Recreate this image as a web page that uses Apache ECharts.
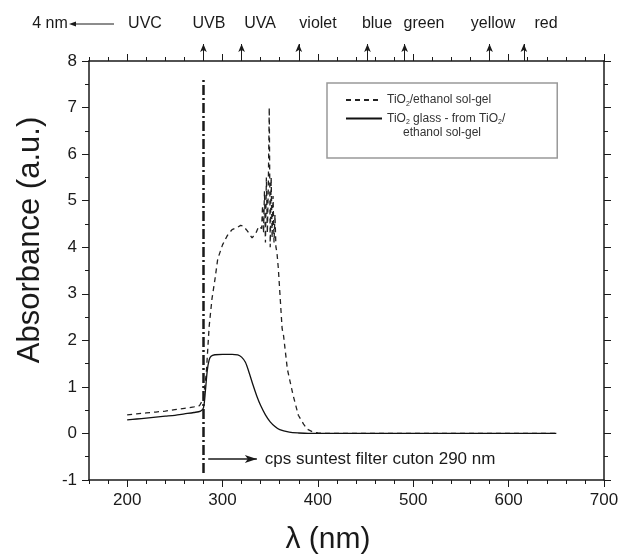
<!DOCTYPE html>
<html>
<head>
<meta charset="utf-8">
<script src="https://cdn.jsdelivr.net/npm/echarts@6/dist/echarts.min.js"></script>
<style>
  html, body { margin: 0; padding: 0; background: #fff; }
  #chart { width: 622px; height: 560px; }
</style>
</head>
<body>
<div id="chart"></div>
<script>
// wavelength (nm) and absorbance, TiO2/ethanol sol-gel (dashed)
var solNm = [200, 210, 220, 230, 240, 250, 260, 270, 276, 280, 283, 286, 289, 292, 295, 300, 305, 310, 315, 319, 322, 326, 331, 335, 338, 341,
  342, 343, 344, 345, 346, 347, 348, 349, 350, 351, 352, 353, 354, 355, 356, 357, 358.5, 360.5, 362.5, 364, 368, 374, 379.5, 385, 389, 395, 400, 410, 450, 500, 550, 600, 650];
var solAbs = [0.40, 0.42, 0.44, 0.46, 0.48, 0.51, 0.54, 0.57, 0.60, 0.75, 1.3, 2.3, 2.9, 3.3, 3.75, 4.05, 4.25, 4.38, 4.42, 4.47, 4.45, 4.35, 4.2, 4.3, 4.45, 4.4,
  4.9, 4.3, 5.2, 4.1, 5.5, 4.3, 5.3, 7.0, 4.0, 5.5, 4.2, 5.1, 4.1, 4.7, 4.0, 3.9, 3.55, 2.9, 2.25, 2.1, 1.38, 0.82, 0.39, 0.2, 0.09, 0.03, 0.01, 0, 0, 0, 0, 0, 0];

// TiO2 glass (solid)
var glassNm = [200, 210, 220, 230, 240, 250, 260, 270, 277, 280, 282, 284, 286, 288, 292, 300, 310, 316, 320, 324, 328, 332, 336, 340, 345, 350, 355, 360, 370, 380, 390, 450, 500, 550, 600, 650];
var glassAbs = [0.29, 0.31, 0.33, 0.35, 0.37, 0.39, 0.42, 0.45, 0.48, 0.55, 0.9, 1.35, 1.58, 1.66, 1.69, 1.70, 1.70, 1.69, 1.64, 1.53, 1.3, 1.04, 0.8, 0.6, 0.4, 0.25, 0.15, 0.08, 0.03, 0.01, 0, 0, 0, 0, 0, 0];

var xTicksMajor = [200, 300, 400, 500, 600, 700];
var cutonNm = 280;
var cutonArrow = [285, 336, -0.55];
var bandArrowsNm = [280, 320, 380, 452, 491, 580, 616];
var bandLabels = ['UVC', 'UVB', 'UVA', 'violet', 'blue', 'green', 'yellow', 'red'];
var bandLabelX = [145, 209, 260, 318, 377, 424, 493, 546];

function pairs(xs, ys) {
  return xs.map(function (x, i) { return [x, ys[i]]; });
}

var chart = echarts.init(document.getElementById('chart'));
var ink = '#1a1a1a';
var font = 'Liberation Sans, Arial, sans-serif';

var baseX = {
  type: 'value', gridIndex: 0, min: 160, max: 700, interval: 20,
  axisLine: { onZero: false, lineStyle: { color: ink, width: 1.5 } },
  axisTick: { length: 4, lineStyle: { color: ink, width: 1 } },
  splitLine: { show: false }
};
var majorX = {
  type: 'value', gridIndex: 0, min: 160, max: 700,
  axisLine: { show: false, onZero: false }, axisLabel: { show: false }, splitLine: { show: false },
  axisTick: { length: 7, customValues: xTicksMajor, lineStyle: { color: ink, width: 1 } }
};

var graphics = [
  { type: 'text', x: 50, y: 24, style: { text: '4 nm', font: '16px ' + font, fill: ink, align: 'center', verticalAlign: 'middle' } },
  { type: 'line', shape: { x1: 74, y1: 24, x2: 114, y2: 24 }, style: { stroke: ink, lineWidth: 1 } },
  { type: 'polygon', shape: { points: [[69, 24], [76, 21.5], [76, 26.5]] }, style: { fill: ink } },
  { type: 'text', x: 30, y: 240, rotation: Math.PI / 2, style: { text: 'Absorbance (a.u.)', font: '31px ' + font, fill: ink, align: 'center', verticalAlign: 'middle' } },
  { type: 'text', x: 328, y: 540, style: { text: 'λ (nm)', font: '30px ' + font, fill: ink, align: 'center', verticalAlign: 'middle' } },
  { type: 'text', x: 442, y: 133, style: { text: 'ethanol sol-gel', font: '12px ' + font, fill: '#333', align: 'center', verticalAlign: 'middle' } }
];
bandLabels.forEach(function (t, i) {
  graphics.push({ type: 'text', x: bandLabelX[i], y: 24, style: { text: t, font: '16px ' + font, fill: ink, align: 'center', verticalAlign: 'middle' } });
});

var option = {
  animation: false,
  backgroundColor: '#fff',
  grid: [
    { left: 89, right: 18, top: 61, bottom: 80 },
    { left: 89, right: 18, top: 44, height: 17 }
  ],
  xAxis: [
    Object.assign({}, baseX, {
      position: 'bottom',
      axisLabel: {
        margin: 12, fontSize: 17, color: ink, fontFamily: font,
        formatter: function (v) { return v % 100 === 0 ? String(v) : ''; }
      }
    }),
    Object.assign({}, majorX, { position: 'bottom' }),
    Object.assign({}, baseX, { position: 'top', axisLabel: { show: false } }),
    Object.assign({}, majorX, { position: 'top' }),
    { type: 'value', gridIndex: 1, min: 160, max: 700, show: false }
  ],
  yAxis: [
    { type: 'value', gridIndex: 0, position: 'left', min: -1, max: 8, interval: 1,
      axisLine: { show: true, onZero: false, lineStyle: { color: ink, width: 1.5 } },
      axisTick: { show: true, length: 7, lineStyle: { color: ink, width: 1 } },
      minorTick: { show: true, splitNumber: 2, length: 4, lineStyle: { color: ink, width: 1 } },
      axisLabel: { margin: 12, fontSize: 17, color: ink, fontFamily: font },
      splitLine: { show: false } },
    { type: 'value', gridIndex: 0, position: 'right', min: -1, max: 8, interval: 1,
      axisLine: { show: true, onZero: false, lineStyle: { color: ink, width: 1.5 } },
      axisTick: { show: true, length: 7, lineStyle: { color: ink, width: 1 } },
      minorTick: { show: true, splitNumber: 2, length: 4, lineStyle: { color: ink, width: 1 } },
      axisLabel: { show: false },
      splitLine: { show: false } },
    { type: 'value', gridIndex: 1, min: 0, max: 1, show: false }
  ],
  legend: {
    left: 327, top: 83, orient: 'vertical',
    data: ['TiO2/ethanol sol-gel', 'TiO2 glass'],
    itemWidth: 36, itemHeight: 12, itemGap: 5,
    padding: [11, 52, 32, 18],
    borderColor: '#999', borderWidth: 1.5,
    itemStyle: { opacity: 0 },
    formatter: function (name) {
      return name === 'TiO2 glass'
        ? '{t|TiO}{s|2}{t| glass - from TiO}{s|2}{t|/}'
        : '{t|TiO}{s|2}{t|/ethanol sol-gel}';
    },
    textStyle: {
      rich: {
        t: { fontSize: 12, color: '#333', fontFamily: font },
        s: { fontSize: 7, color: '#333', fontFamily: font, padding: [8, 0, 0, 0] }
      }
    }
  },
  graphic: graphics,
  series: [
    {
      name: 'TiO2/ethanol sol-gel', type: 'line', xAxisIndex: 0, yAxisIndex: 0,
      data: pairs(solNm, solAbs), showSymbol: false, symbol: 'none',
      lineStyle: { color: '#222', width: 1.3, type: [5, 4] }, itemStyle: { color: '#222' }
    },
    {
      name: 'TiO2 glass', type: 'line', xAxisIndex: 0, yAxisIndex: 0,
      data: pairs(glassNm, glassAbs), showSymbol: false, symbol: 'none', smooth: 0.3,
      lineStyle: { color: '#111', width: 1.3 }, itemStyle: { color: '#111' },
      markLine: {
        silent: true, symbol: ['none', 'none'], animation: false,
        data: [
          [{ coord: [cutonNm, -0.85], lineStyle: { color: ink, width: 2.5, type: [10, 3, 2, 3] } },
           { coord: [cutonNm, 7.6] }],
          [{ coord: [cutonArrow[0], cutonArrow[2]], symbol: 'none',
             lineStyle: { color: ink, width: 1.5, type: 'solid' },
             label: { show: true, position: 'end', distance: 8, formatter: 'cps suntest filter cuton 290 nm',
                      fontSize: 17, color: ink, fontFamily: font } },
           { coord: [cutonArrow[1], cutonArrow[2]], symbol: 'arrow', symbolSize: [6, 12] }]
        ],
        label: { show: false }
      }
    },
    {
      name: 'bands', type: 'line', xAxisIndex: 4, yAxisIndex: 2, data: [],
      markLine: {
        silent: true, symbol: ['none', 'arrow'], symbolSize: [5, 8], animation: false,
        lineStyle: { color: ink, width: 1, type: 'solid' },
        label: { show: false },
        data: bandArrowsNm.map(function (nm) { return [{ coord: [nm, 0] }, { coord: [nm, 1] }]; })
      }
    }
  ]
};
chart.setOption(option);
</script>
</body>
</html>
